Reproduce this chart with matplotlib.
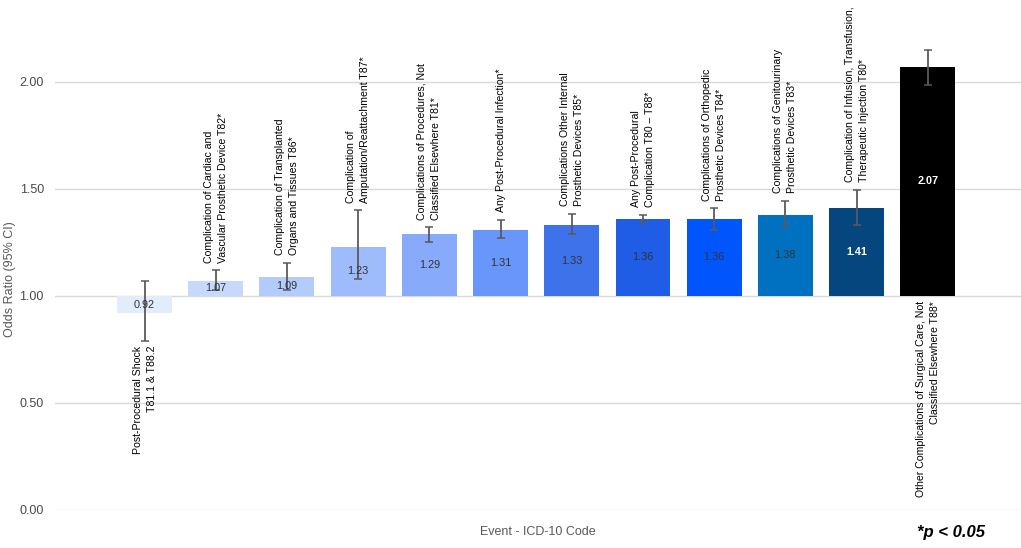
import matplotlib
matplotlib.use("Agg")
import matplotlib.pyplot as plt

plt.rcParams['font.family'] = ['Liberation Sans', 'DejaVu Sans']

labels = [
    "Post-Procedural Shock\nT81.1 & T88.2",
    "Complication of Cardiac and\nVascular Prosthetic Device T82*",
    "Complication of Transplanted\nOrgans and Tissues T86*",
    "Complication of\nAmputation/Reattachment T87*",
    "Complications of Procedures, Not\nClassified Elsewhere T81*",
    "Any Post-Procedural Infection*",
    "Complications Other Internal\nProsthetic Devices T85*",
    "Any Post-Procedural\nComplication T80 \u2013 T88*",
    "Complications of Orthopedic\nProsthetic Devices T84*",
    "Complications of Genitourinary\nProsthetic Devices T83*",
    "Complication of Infusion, Transfusion,\nTherapeutic Injection T80*",
    "Other Complications of Surgical Care, Not\nClassified Elsewhere T88*",
]
odds = [0.92, 1.07, 1.09, 1.23, 1.29, 1.31, 1.33, 1.36, 1.36, 1.38, 1.41, 2.07]
ci_low = [0.79, 1.03, 1.03, 1.08, 1.25, 1.27, 1.29, 1.34, 1.31, 1.32, 1.33, 1.985]
ci_high = [1.07, 1.12, 1.155, 1.40, 1.32, 1.355, 1.385, 1.38, 1.41, 1.445, 1.495, 2.15]
colors = ["#e3ecfd", "#c6d9fd", "#b3cbfd", "#9ebcfc", "#87abfa", "#6896fa",
          "#3d72ea", "#1f5de6", "#0055fd", "#0070c0", "#06467f", "#000000"]
value_colors = ["#333333"] * 10 + ["#ffffff", "#ffffff"]
baseline = 1.0
yticks = [0.0, 0.5, 1.0, 1.5, 2.0]

fig = plt.figure(figsize=(10.21, 5.48), dpi=100)
ax = fig.add_axes([55 / 1021, 38 / 548, 966 / 1021, 510 / 548])
ax.set_xlim(-1.257, 12.31)
ax.set_ylim(0, 2.383)

x = list(range(len(odds)))
heights = [v - baseline for v in odds]
ax.bar(x, heights, bottom=baseline, width=0.77, color=colors, zorder=2)
yerr = [[v - l for v, l in zip(odds, ci_low)], [h - v for v, h in zip(odds, ci_high)]]
ax.errorbar(x, odds, yerr=yerr, fmt='none', ecolor='#5a5a5a', elinewidth=1.3,
            capsize=3, capthick=1.1, zorder=3)

for i, v in enumerate(odds):
    ax.text(i, (v + baseline) / 2, f"{v:.2f}", ha='center', va='center',
            fontsize=7.8, color=value_colors[i], zorder=4,
            fontweight='bold' if value_colors[i] == '#ffffff' else 'normal')

fs = 7.6
ls = 1.5
for i, lab in enumerate(labels):
    if odds[i] < baseline:
        ax.annotate(lab, (i, ci_low[i]), xytext=(0, -3.5), textcoords='offset points',
                    rotation=90, ha='center', va='top', multialignment='right',
                    fontsize=fs, color='black', linespacing=ls)
    elif i == len(labels) - 1:
        ax.annotate(lab, (i, baseline), xytext=(0, -3.5), textcoords='offset points',
                    rotation=90, ha='center', va='top', multialignment='right',
                    fontsize=fs, color='black', linespacing=ls)
    else:
        ax.annotate(lab, (i, ci_high[i]), xytext=(0, 5.5), textcoords='offset points',
                    rotation=90, ha='center', va='bottom', multialignment='left',
                    fontsize=fs, color='black', linespacing=ls)

ax.set_yticks(yticks)
ax.set_yticklabels([f"{t:.2f}" for t in yticks], fontsize=9, color='#4a4a4a')
ax.set_xticks([])
ax.tick_params(axis='y', length=0, pad=8)
ax.grid(axis='y', color='#d9d9d9', linewidth=1.0, zorder=0)
ax.set_axisbelow(True)
for s in ax.spines.values():
    s.set_visible(False)

fig.text(10 / 1021, 1 - 279 / 548, "Odds Ratio (95% CI)", rotation=90, ha='center',
         va='center', fontsize=9, color='#595959')
fig.text(538 / 1021, 1 - 532 / 548, "Event - ICD-10 Code", ha='center', va='center',
         fontsize=9, color='#595959')
fig.text(951 / 1021, 1 - 532 / 548, "*p < 0.05", ha='center', va='center',
         fontsize=12, fontweight='bold', fontstyle='italic', color='black')

fig.savefig("out.png", dpi=100)
